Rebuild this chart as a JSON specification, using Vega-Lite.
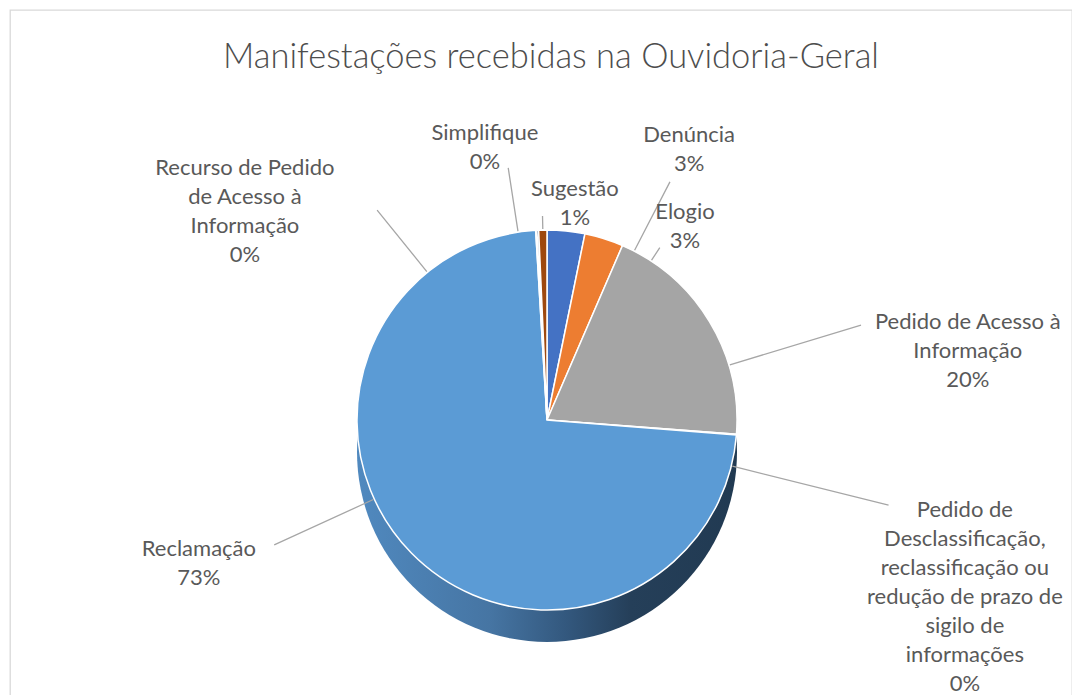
{
  "$schema": "https://vega.github.io/schema/vega-lite/v6.json",
  "autosize": {"type": "none"},
  "width": 1062,
  "height": 700,
  "padding": {"left": 10, "top": 10, "right": 0, "bottom": 0},
  "background": "white",
  "view": {"stroke": "#d9d9d9", "strokeWidth": 1.3},
  "config": {"view": {"stroke": "#d9d9d9", "strokeWidth": 1.3}},
  "title": {
    "text": "Manifestações recebidas na Ouvidoria-Geral",
    "font": "Lato",
    "fontSize": 34.5,
    "fontWeight": 300,
    "color": "#4d4d4d",
    "anchor": "middle",
    "baseline": "alphabetic",
    "offset": -92,
    "dx": 10
  },
  "data": {
    "values": [
      {"cat": "Denúncia", "label": "Denúncia", "value": 3.2},
      {"cat": "Elogio", "label": "Elogio", "value": 3.3},
      {"cat": "Pedido de Acesso à Informação", "label": "Pedido de Acesso à\nInformação", "value": 19.7},
      {"cat": "Pedido de Desclassificação, reclassificação ou redução de prazo de sigilo de informações", "label": "Pedido de\nDesclassificação,\nreclassificação ou\nredução de prazo de\nsigilo de\ninformações", "value": 0.05},
      {"cat": "Reclamação", "label": "Reclamação", "value": 72.8},
      {"cat": "Recurso de Pedido de Acesso à Informação", "label": "Recurso de Pedido\nde Acesso à\nInformação", "value": 0.1},
      {"cat": "Simplifique", "label": "Simplifique", "value": 0.15},
      {"cat": "Sugestão", "label": "Sugestão", "value": 0.7}
    ]
  },
  "transform": [
    {"joinaggregate": [{"op": "sum", "field": "value", "as": "total"}]},
    {"stack": "value", "groupby": [], "sort": [{"field": "cat", "order": "ascending"}], "as": ["s0", "s1"]},
    {"calculate": "(datum.s0 + datum.s1) / 2", "as": "mid"},
    {"calculate": "datum.label + '\\n' + format(datum.value / datum.total, '.0%')", "as": "txt"}
  ],
  "layer": [
    {
      "transform": [{"filter": "datum.cat === 'Reclamação'"}],
      "mark": {
        "type": "arc", "radius": 190, "theta": 0, "theta2": 6.2832,
        "xOffset": 6, "yOffset": 92,
        "fill": {"gradient": "linear", "x1": 0, "y1": 0, "x2": 1, "y2": 0,
          "stops": [
            {"offset": 0, "color": "#5089bf"},
            {"offset": 0.35, "color": "#4675a3"},
            {"offset": 0.55, "color": "#33587e"},
            {"offset": 0.72, "color": "#253f59"},
            {"offset": 1, "color": "#213a52"}
          ]}
      },
      "encoding": {}
    },
    {
      "mark": {"type": "arc", "radius": 190, "xOffset": 6, "yOffset": 60, "stroke": "white", "strokeWidth": 1.5},
      "encoding": {
        "theta": {"field": "s0", "type": "quantitative", "stack": null, "scale": {"domain": [0, 100]}},
        "theta2": {"field": "s1"},
        "color": {
          "field": "cat", "type": "nominal", "legend": null,
          "scale": {
            "domain": ["Denúncia", "Elogio", "Pedido de Acesso à Informação", "Pedido de Desclassificação, reclassificação ou redução de prazo de sigilo de informações", "Reclamação", "Recurso de Pedido de Acesso à Informação", "Simplifique", "Sugestão"],
            "range": ["#4472c4", "#ed7d31", "#a5a5a5", "#ffc000", "#5b9bd5", "#70ad47", "#264478", "#9e480e"]
          }
        }
      }
    },
    {"transform": [{"filter": "datum.cat === 'Denúncia'"}],
     "mark": {"type": "arc", "radius": 268, "radius2": 191, "thetaOffset": 0.376, "theta2Offset": 0.376, "xOffset": 6, "yOffset": 60, "filled": false, "stroke": "#a6a6a6", "strokeWidth": 1.3},
     "encoding": {"theta": {"field": "mid", "type": "quantitative", "stack": null}, "theta2": {"field": "mid"}}},
    {"transform": [{"filter": "datum.cat === 'Elogio'"}],
     "mark": {"type": "arc", "radius": 206, "radius2": 191, "thetaOffset": 0.2747, "theta2Offset": 0.2747, "xOffset": 6, "yOffset": 60, "filled": false, "stroke": "#a6a6a6", "strokeWidth": 1.3},
     "encoding": {"theta": {"field": "mid", "type": "quantitative", "stack": null}, "theta2": {"field": "mid"}}},
    {"transform": [{"filter": "datum.cat === 'Sugestão'"}],
     "mark": {"type": "arc", "radius": 204, "radius2": 191, "xOffset": 6, "yOffset": 60, "filled": false, "stroke": "#a6a6a6", "strokeWidth": 1.3},
     "encoding": {"theta": {"field": "mid", "type": "quantitative", "stack": null}, "theta2": {"field": "mid"}}},
    {"transform": [{"filter": "datum.cat === 'Simplifique'"}],
     "mark": {"type": "arc", "radius": 255, "radius2": 191, "thetaOffset": -0.104, "theta2Offset": -0.104, "xOffset": 6, "yOffset": 60, "filled": false, "stroke": "#a6a6a6", "strokeWidth": 1.3},
     "encoding": {"theta": {"field": "mid", "type": "quantitative", "stack": null}, "theta2": {"field": "mid"}}},
    {"transform": [{"filter": "datum.cat === 'Recurso de Pedido de Acesso à Informação'"}],
     "mark": {"type": "arc", "radius": 270, "radius2": 191, "thetaOffset": -0.624, "theta2Offset": -0.624, "xOffset": 6, "yOffset": 60, "filled": false, "stroke": "#a6a6a6", "strokeWidth": 1.3},
     "encoding": {"theta": {"field": "mid", "type": "quantitative", "stack": null}, "theta2": {"field": "mid"}}},
    {"transform": [{"filter": "datum.cat === 'Pedido de Acesso à Informação'"}],
     "mark": {"type": "arc", "radius": 328, "radius2": 191, "thetaOffset": 0.2503, "theta2Offset": 0.2503, "xOffset": 6, "yOffset": 60, "filled": false, "stroke": "#a6a6a6", "strokeWidth": 1.3},
     "encoding": {"theta": {"field": "mid", "type": "quantitative", "stack": null}, "theta2": {"field": "mid"}}},
    {"transform": [{"filter": "datum.cat === 'Pedido de Desclassificação, reclassificação ou redução de prazo de sigilo de informações'"}],
     "mark": {"type": "arc", "radius": 352, "radius2": 191, "thetaOffset": 0.1674, "theta2Offset": 0.1674, "xOffset": 6, "yOffset": 60, "filled": false, "stroke": "#a6a6a6", "strokeWidth": 1.3},
     "encoding": {"theta": {"field": "mid", "type": "quantitative", "stack": null}, "theta2": {"field": "mid"}}},
    {"transform": [{"filter": "datum.cat === 'Reclamação'"}],
     "mark": {"type": "arc", "radius": 300, "radius2": 191, "thetaOffset": 0.3466, "theta2Offset": 0.3466, "xOffset": 6, "yOffset": 60, "filled": false, "stroke": "#a6a6a6", "strokeWidth": 1.3},
     "encoding": {"theta": {"field": "mid", "type": "quantitative", "stack": null}, "theta2": {"field": "mid"}}},
    {"transform": [{"filter": "datum.cat === 'Denúncia'"}],
     "mark": {"type": "text", "radius": 250, "dx": 117, "dy": -29, "xOffset": 6, "yOffset": 60, "font": "Lato", "fontSize": 22, "color": "#595959", "align": "center", "baseline": "alphabetic", "lineBreak": "\n", "lineHeight": 29},
     "encoding": {"theta": {"field": "mid", "type": "quantitative", "stack": null}, "text": {"field": "txt"}}},
    {"transform": [{"filter": "datum.cat === 'Elogio'"}],
     "mark": {"type": "text", "radius": 230, "dx": 69, "dy": 18, "xOffset": 6, "yOffset": 60, "font": "Lato", "fontSize": 22, "color": "#595959", "align": "center", "baseline": "alphabetic", "lineBreak": "\n", "lineHeight": 29},
     "encoding": {"theta": {"field": "mid", "type": "quantitative", "stack": null}, "text": {"field": "txt"}}},
    {"transform": [{"filter": "datum.cat === 'Sugestão'"}],
     "mark": {"type": "text", "radius": 230, "dx": 33, "dy": 6, "xOffset": 6, "yOffset": 60, "font": "Lato", "fontSize": 22, "color": "#595959", "align": "center", "baseline": "alphabetic", "lineBreak": "\n", "lineHeight": 29},
     "encoding": {"theta": {"field": "mid", "type": "quantitative", "stack": null}, "text": {"field": "txt"}}},
    {"transform": [{"filter": "datum.cat === 'Simplifique'"}],
     "mark": {"type": "text", "radius": 270, "dx": -49, "dy": -10, "xOffset": 6, "yOffset": 60, "font": "Lato", "fontSize": 22, "color": "#595959", "align": "center", "baseline": "alphabetic", "lineBreak": "\n", "lineHeight": 29},
     "encoding": {"theta": {"field": "mid", "type": "quantitative", "stack": null}, "text": {"field": "txt"}}},
    {"transform": [{"filter": "datum.cat === 'Recurso de Pedido de Acesso à Informação'"}],
     "mark": {"type": "text", "radius": 250, "dx": -288, "dy": 5, "xOffset": 6, "yOffset": 60, "font": "Lato", "fontSize": 22, "color": "#595959", "align": "center", "baseline": "alphabetic", "lineBreak": "\n", "lineHeight": 29},
     "encoding": {"theta": {"field": "mid", "type": "quantitative", "stack": null}, "text": {"field": "txt"}}},
    {"transform": [{"filter": "datum.cat === 'Pedido de Acesso à Informação'"}],
     "mark": {"type": "text", "radius": 300, "dx": 164, "dy": 64, "xOffset": 6, "yOffset": 60, "font": "Lato", "fontSize": 22, "color": "#595959", "align": "center", "baseline": "alphabetic", "lineBreak": "\n", "lineHeight": 29},
     "encoding": {"theta": {"field": "mid", "type": "quantitative", "stack": null}, "text": {"field": "txt"}}},
    {"transform": [{"filter": "datum.cat === 'Pedido de Desclassificação, reclassificação ou redução de prazo de sigilo de informações'"}],
     "mark": {"type": "text", "radius": 380, "dx": 39, "dy": 68, "xOffset": 6, "yOffset": 60, "font": "Lato", "fontSize": 22, "color": "#595959", "align": "center", "baseline": "alphabetic", "lineBreak": "\n", "lineHeight": 29},
     "encoding": {"theta": {"field": "mid", "type": "quantitative", "stack": null}, "text": {"field": "txt"}}},
    {"transform": [{"filter": "datum.cat === 'Reclamação'"}],
     "mark": {"type": "text", "radius": 300, "dx": -134, "dy": -74, "xOffset": 6, "yOffset": 60, "font": "Lato", "fontSize": 22, "color": "#595959", "align": "center", "baseline": "alphabetic", "lineBreak": "\n", "lineHeight": 29},
     "encoding": {"theta": {"field": "mid", "type": "quantitative", "stack": null}, "text": {"field": "txt"}}}
  ]
}
